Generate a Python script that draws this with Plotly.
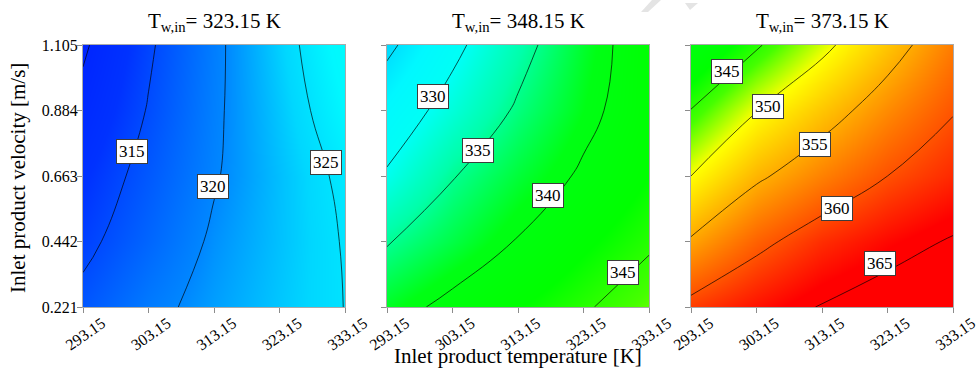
import plotly.graph_objects as go

# ---------------- data ----------------
inlet_temp = [293.15, 303.15, 313.15, 323.15, 333.15]          # K (x)
inlet_vel = [0.221, 0.442, 0.663, 0.884, 1.105]                 # m/s (y)
wall_temps = ["323.15", "348.15", "373.15"]

# outlet temperature grids, rows = velocity (low -> high), cols = inlet temperature
z_323 = [
    [316.0, 319.0, 321.2, 323.2, 325.05],
    [314.1, 317.3, 320.5, 322.9, 325.2],
    [312.7, 316.2, 319.7, 322.8, 325.7],
    [311.0, 315.2, 319.4, 323.2, 327.0],
    [309.5, 314.5, 319.2, 323.7, 328.0],
]
z_348 = [
    [338.5, 341.0, 342.9, 344.7, 346.5],
    [334.7, 337.4, 340.2, 342.6, 344.6],
    [330.4, 334.8, 337.8, 340.5, 343.0],
    [327.5, 331.5, 335.5, 339.0, 342.2],
    [324.2, 329.0, 333.6, 338.2, 342.2],
]
z_373 = [
    [361.0, 363.2, 365.2, 366.6, 367.8],
    [355.4, 359.1, 361.8, 363.7, 365.3],
    [350.0, 354.4, 357.3, 360.0, 362.0],
    [345.1, 349.9, 353.4, 356.8, 359.8],
    [340.2, 344.6, 349.1, 353.4, 357.6],
]
grids = [z_323, z_348, z_373]
contour_levels = [(310, 325), (325, 345), (345, 365)]

# contour label values and where they sit (inlet temp, velocity)
label_values = [[315, 320, 325], [330, 335, 340, 345], [345, 350, 355, 360, 365]]
label_temp = [[300.6, 313.06, 330.2], [300.2, 307.1, 317.8, 329.2],
              [298.6, 304.85, 312.1, 315.4, 322.05]]
label_vel = [[0.745, 0.629, 0.709], [0.93, 0.75, 0.598, 0.339],
             [1.015, 0.897, 0.77, 0.553, 0.367]]

# ---------------- style ----------------
FONT = "Liberation Serif, Times New Roman, serif"
CMIN, CMAX = 308.0, 368.0
stops = [
    (308, "rgb(0,30,255)"), (313, "rgb(0,50,255)"), (320, "rgb(0,135,255)"),
    (324, "rgb(0,215,255)"), (327, "rgb(0,248,255)"), (330, "rgb(0,255,245)"),
    (334, "rgb(0,255,170)"), (339, "rgb(0,255,20)"), (343, "rgb(0,255,0)"),
    (346, "rgb(70,255,0)"), (350, "rgb(255,255,0)"), (355, "rgb(255,170,0)"),
    (360, "rgb(255,80,0)"), (364, "rgb(255,0,0)"), (368, "rgb(255,0,0)"),
]
colorscale = [[(v - CMIN) / (CMAX - CMIN), c] for v, c in stops]

W, H = 976, 371
x_doms = [(83 / W, 345 / W), (387 / W, 649 / W), (691 / W, 953 / W)]
y_dom = ((H - 307) / H, (H - 45) / H)

fig = go.Figure()
for i, z in enumerate(grids):
    lo, hi = contour_levels[i]
    fig.add_trace(go.Contour(
        x=inlet_temp, y=inlet_vel, z=z,
        xaxis="x" if i == 0 else f"x{i+1}",
        yaxis="y" if i == 0 else f"y{i+1}",
        colorscale=colorscale, zmin=CMIN, zmax=CMAX, showscale=False,
        contours=dict(start=lo, end=hi, size=5, coloring="heatmap", showlabels=False),
        line=dict(color="rgba(0,0,0,0.85)", width=0.8, smoothing=1.3),
        hoverinfo="skip",
    ))

axis_common = dict(showgrid=False, zeroline=False, showline=True, mirror=True,
                   linecolor="rgb(170,170,170)", linewidth=1, ticks="outside",
                   tickcolor="rgb(140,140,140)", ticklen=5, automargin=False,
                   ticklabeloverflow="allow",
                   tickfont=dict(family=FONT, size=16, color="black"))
layout = dict(width=W, height=H, margin=dict(l=0, r=0, t=0, b=0, autoexpand=False),
              paper_bgcolor="white", plot_bgcolor="white", showlegend=False,
              font=dict(family=FONT))
annotations = []
for i in range(3):
    xa = "xaxis" if i == 0 else f"xaxis{i+1}"
    ya = "yaxis" if i == 0 else f"yaxis{i+1}"
    xr = "x" if i == 0 else f"x{i+1}"
    yr = "y" if i == 0 else f"y{i+1}"
    layout[xa] = dict(axis_common, domain=x_doms[i], anchor=yr,
                      range=[inlet_temp[0], inlet_temp[-1]],
                      tickvals=inlet_temp, ticktext=[f"{t:.2f}" for t in inlet_temp],
                      tickangle=-35, ticklabelshift=19, ticklabelstandoff=-5)
    layout[ya] = dict(axis_common, domain=y_dom, anchor=xr,
                      range=[inlet_vel[0], inlet_vel[-1]],
                      tickvals=inlet_vel, ticklabelstandoff=-4,
                      ticktext=[f"{v:.3f}" for v in inlet_vel] if i == 0 else [""] * 5)
    # subplot title
    annotations.append(dict(
        text=f"T<sub>w,in</sub>= {wall_temps[i]} K", xref="paper", yref="paper",
        x=(x_doms[i][0] + x_doms[i][1]) / 2, y=(H - 37) / H,
        xanchor="center", yanchor="bottom",
        showarrow=False, font=dict(family=FONT, size=21, color="black")))
    for val, tx, vy in zip(label_values[i], label_temp[i], label_vel[i]):
        annotations.append(dict(
            text=str(val), x=tx, y=vy, xref=xr, yref=yr, showarrow=False,
            xanchor="center", yanchor="middle",
            bgcolor="white", bordercolor="rgb(60,60,60)", borderwidth=1, borderpad=2,
            font=dict(family=FONT, size=17, color="black")))

annotations.append(dict(
    text="Inlet product temperature [K]", xref="paper", yref="paper",
    x=(x_doms[1][0] + x_doms[1][1]) / 2, y=(H - 356) / H,
    xanchor="center", yanchor="middle",
    showarrow=False, font=dict(family=FONT, size=21, color="black")))
annotations.append(dict(
    text="Inlet product velocity [m/s]", xref="paper", yref="paper",
    x=18 / W, y=(H - 178) / H, textangle=-90, xanchor="center", yanchor="middle",
    showarrow=False, font=dict(family=FONT, size=21, color="black")))
layout["annotations"] = annotations

# faint watermark fragments at the top edge of the page
layout["shapes"] = [
    dict(type="path", xref="paper", yref="paper", layer="below",
         path=f"M {652/W} 1 L {661/W} 1 L {648/W} {(H-12)/H} L {641/W} {(H-12)/H} Z",
         fillcolor="rgb(228,228,228)", line=dict(width=0)),
    dict(type="path", xref="paper", yref="paper", layer="below",
         path=f"M {685/W} {(H-3)/H} L {698/W} {(H-3)/H} L {690/W} {(H-10)/H} Z",
         fillcolor="rgb(228,228,228)", line=dict(width=0)),
]
fig.update_layout(**layout)
fig.write_html("out.html", config={"displayModeBar": False},
               post_script="document.body.style.margin='0px';")
